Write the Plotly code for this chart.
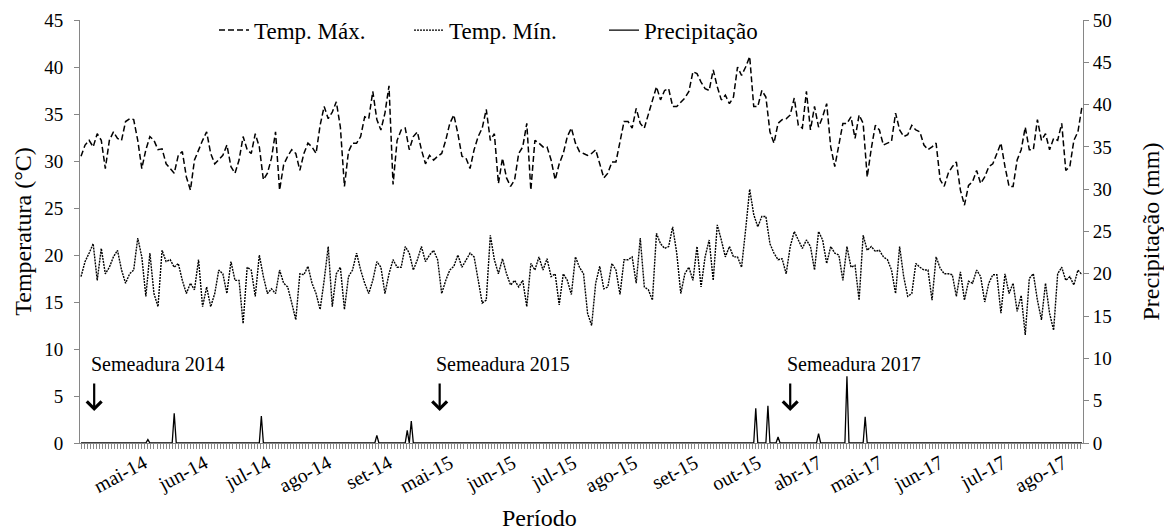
import numpy as np
import plotly.graph_objects as go

# Daily maximum temperature (°C), one reading every 2 days
t_max = [
    30.5, 31.7, 32.2, 31.5, 32.9, 32.2, 29.2, 32.2, 33.1, 32.4, 32.2, 34.2, 34.5, 34.4,
    32.2, 29.2, 31.2, 32.6, 32.2, 31.2, 31.3, 29.7, 29.2, 28.7, 30.6, 31.0, 28.3, 26.9,
    30.1, 31.2, 32.2, 33.1, 30.8, 29.7, 30.1, 30.6, 31.7, 29.4, 28.7, 30.1, 32.6, 31.2,
    30.8, 32.9, 31.5, 28.0, 28.7, 30.3, 33.1, 26.9, 29.6, 30.5, 31.2, 30.8, 29.0, 30.8,
    31.9, 31.5, 30.8, 33.8, 35.8, 34.5, 35.2, 36.3, 33.6, 27.3, 31.0, 31.9, 31.9, 32.6,
    34.7, 34.5, 37.4, 34.4, 33.3, 35.1, 38.0, 27.5, 32.2, 33.3, 33.5, 31.2, 32.6, 33.1,
    31.2, 29.7, 30.6, 30.1, 30.5, 30.8, 32.2, 34.0, 34.9, 32.9, 30.5, 30.3, 29.2, 31.2,
    32.6, 33.5, 35.5, 32.2, 32.9, 27.6, 30.3, 28.2, 27.3, 28.0, 30.8, 31.5, 34.0, 26.9,
    32.2, 31.9, 31.5, 31.5, 30.1, 28.0, 29.7, 30.8, 32.6, 33.5, 31.9, 31.0, 30.8, 30.6,
    30.8, 31.2, 29.7, 28.2, 28.7, 29.9, 29.9, 32.2, 34.2, 34.2, 33.5, 35.6, 34.0, 33.5,
    34.9, 36.5, 37.9, 36.5, 37.5, 37.7, 35.8, 35.8, 36.3, 36.7, 37.4, 39.5, 39.3, 38.4,
    37.7, 37.5, 39.7, 37.9, 36.5, 37.0, 36.1, 36.8, 40.0, 39.1, 40.0, 41.1, 35.8, 35.8,
    37.5, 36.8, 33.1, 31.9, 34.0, 34.4, 34.5, 34.9, 36.7, 33.8, 33.5, 37.4, 33.3, 35.8,
    33.6, 34.7, 36.1, 31.5, 29.4, 31.9, 34.0, 34.0, 34.7, 32.4, 34.9, 34.0, 28.3, 31.3,
    33.8, 33.3, 31.7, 31.9, 32.1, 35.1, 33.3, 32.6, 32.8, 33.8, 33.3, 33.1, 31.7, 31.2,
    31.5, 31.9, 28.0, 27.3, 28.7, 29.4, 29.9, 26.9, 25.3, 27.4, 27.8, 29.0, 27.6, 28.3,
    29.4, 29.7, 30.8, 31.9, 29.4, 27.3, 27.3, 30.1, 31.2, 33.6, 31.2, 31.2, 34.4, 32.2,
    32.9, 31.2, 32.4, 32.2, 34.0, 29.0, 29.4, 32.2, 33.1, 35.8,
]

# Daily minimum temperature (°C), same sampling
t_min = [
    17.7, 19.3, 20.2, 21.2, 17.3, 20.7, 18.0, 18.7, 19.8, 20.5, 18.4, 17.0, 18.0, 18.4,
    21.8, 19.8, 15.6, 20.2, 15.9, 14.5, 20.5, 19.3, 19.5, 18.7, 19.1, 17.3, 15.9, 17.0,
    16.3, 19.5, 14.5, 16.6, 14.5, 15.9, 18.4, 18.0, 15.9, 19.3, 17.3, 17.3, 12.7, 18.7,
    18.4, 15.6, 20.0, 17.7, 15.9, 16.4, 15.9, 18.4, 17.0, 16.6, 14.9, 13.1, 18.0, 17.9,
    18.8, 17.0, 15.9, 14.2, 17.3, 20.9, 14.5, 18.0, 18.7, 14.2, 17.7, 18.4, 20.2, 18.4,
    17.0, 15.9, 17.3, 19.3, 18.7, 15.9, 18.0, 19.5, 18.7, 18.7, 20.9, 20.2, 18.4, 19.5,
    20.9, 19.3, 20.0, 20.5, 19.5, 15.9, 17.3, 18.4, 18.8, 20.0, 18.7, 19.5, 20.2, 19.8,
    17.3, 14.9, 15.2, 22.1, 19.5, 18.0, 19.6, 18.0, 16.8, 17.3, 16.6, 17.3, 14.5, 19.1,
    18.4, 19.8, 18.4, 19.6, 17.7, 18.0, 14.7, 18.0, 17.3, 15.8, 19.8, 18.7, 18.0, 13.8,
    12.5, 17.0, 18.8, 16.4, 16.6, 19.1, 18.4, 15.8, 19.5, 19.5, 19.8, 17.0, 21.8, 16.6,
    16.3, 15.2, 22.3, 21.2, 20.7, 20.9, 23.0, 20.2, 15.9, 18.0, 18.7, 17.3, 20.9, 16.6,
    19.8, 21.6, 17.3, 23.2, 21.6, 19.8, 20.9, 19.8, 19.8, 18.7, 22.7, 27.0, 24.3, 23.0,
    24.1, 24.1, 21.2, 20.2, 19.5, 19.6, 18.0, 20.9, 22.5, 21.6, 20.7, 21.6, 20.9, 18.4,
    22.5, 21.6, 19.1, 20.9, 20.2, 20.0, 17.3, 20.9, 18.7, 18.9, 15.2, 22.1, 20.5, 20.9,
    20.4, 20.5, 19.8, 19.5, 18.4, 15.9, 20.9, 17.7, 15.6, 15.9, 19.1, 18.7, 18.4, 18.4,
    15.2, 19.8, 18.6, 18.0, 18.0, 17.9, 15.6, 18.2, 15.2, 17.2, 17.0, 18.4, 17.7, 15.0,
    17.0, 17.9, 17.9, 13.8, 18.0, 15.9, 17.0, 14.0, 15.7, 11.5, 17.5, 18.0, 15.2, 13.1,
    17.0, 13.8, 12.0, 18.0, 18.7, 17.3, 17.7, 16.8, 18.4, 17.9,
]

# Rain events: day index and amount (mm); all other days are dry
rain_day = [33, 46, 89, 146, 161, 163, 333, 339, 344, 364, 378, 387]
rain_mm = [0.4, 3.5, 3.2, 0.9, 1.5, 2.6, 4.1, 4.4, 0.7, 1.1, 7.9, 3.1]

# Month labels on the day axis
month_day = [31, 61, 92, 122, 152, 182, 213, 243, 273, 303, 334, 364, 394, 424, 455, 485]
month_lbl = ["mai-14", "jun-14", "jul-14", "ago-14", "set-14",
             "mai-15", "jun-15", "jul-15", "ago-15", "set-15", "out-15",
             "abr-17", "mai-17", "jun-17", "jul-17", "ago-17"]

# Sowing dates
sowing_day = [6.5, 177, 350]
sowing_lbl = ["Semeadura 2014", "Semeadura 2015", "Semeadura 2017"]

n_days = 495
temp_day = np.arange(len(t_max)) * 2
all_days = np.arange(n_days)
precip = np.zeros(n_days)
precip[rain_day] = rain_mm

FONT = "Liberation Serif"
AXIS_GREY = "#868686"

fig = go.Figure()
fig.add_trace(go.Scatter(
    x=temp_day, y=t_max, mode="lines", name="Temp. Máx.",
    line=dict(color="black", width=1.5, dash="6px,3px"),
))
fig.add_trace(go.Scatter(
    x=temp_day, y=t_min, mode="lines", name="Temp. Mín.",
    line=dict(color="black", width=1.4, dash="2px,1px"),
))
fig.add_trace(go.Scatter(
    x=all_days, y=precip, mode="lines", name="Precipitação", yaxis="y2",
    line=dict(color="black", width=1.3),
))

annotations = []
for d, lbl in zip(sowing_day, sowing_lbl):
    annotations.append(dict(
        x=d - 2.6, y=8.4, xref="x", yref="y", text=lbl, showarrow=False,
        xanchor="left", yanchor="middle",
        font=dict(family=FONT, size=20, color="black"),
    ))
    annotations.append(dict(
        x=d, y=3.4, xref="x", yref="y", ax=d, ay=6.5, axref="x", ayref="y",
        text="", showarrow=True, arrowhead=4, arrowsize=1.3, arrowwidth=2.2,
        arrowcolor="black",
    ))

# x-axis title, set slightly left of the plot centre
annotations.append(dict(
    x=0.4586, y=-0.177, xref="paper", yref="paper", text="Período",
    showarrow=False, xanchor="center", yanchor="middle",
    font=dict(family=FONT, size=24, color="black"),
))

fig.update_layout(
    width=1164, height=531,
    margin=dict(l=80, r=81, t=20, b=88, autoexpand=False),
    paper_bgcolor="white", plot_bgcolor="white",
    font=dict(family=FONT, size=19, color="black"),
    showlegend=True,
    legend=dict(
        orientation="h", x=0.1336, y=0.976, xanchor="left", yanchor="middle",
        bgcolor="rgba(0,0,0,0)", font=dict(family=FONT, size=23, color="black"),
        itemwidth=30, entrywidth=150, entrywidthmode="pixels",
    ),
    xaxis=dict(
        range=[-0.5, n_days - 0.5], tickmode="array", tickvals=month_day,
        ticktext=month_lbl, tickangle=-28, ticks="", showgrid=False,
        showline=True, linecolor=AXIS_GREY, linewidth=1, zeroline=False,
        automargin=False,
        tickfont=dict(family=FONT, size=20, color="black"),
        minor=dict(ticks="outside", ticklen=5, tickcolor=AXIS_GREY,
                   tickmode="array", tickvals=list(np.arange(0, n_days, 1.5)),
                   showgrid=False),
    ),
    yaxis=dict(
        range=[0, 45], dtick=5, ticks="outside", ticklen=5, tickcolor=AXIS_GREY,
        showline=True, linecolor=AXIS_GREY, showgrid=False, zeroline=False,
        ticklabelstandoff=7, automargin=False,
        tickfont=dict(family=FONT, size=19, color="black"),
        title=dict(text="Temperatura (°C)", font=dict(family=FONT, size=24), standoff=5),
    ),
    yaxis2=dict(
        range=[0, 50], dtick=5, ticks="outside", ticklen=5, tickcolor=AXIS_GREY,
        showline=True, linecolor=AXIS_GREY, showgrid=False, zeroline=False,
        overlaying="y", side="right", automargin=False,
        tickfont=dict(family=FONT, size=19, color="black"),
        title=dict(text="Precipitação (mm)", font=dict(family=FONT, size=24), standoff=31),
    ),
    annotations=annotations,
)

fig.write_html("out.html")
